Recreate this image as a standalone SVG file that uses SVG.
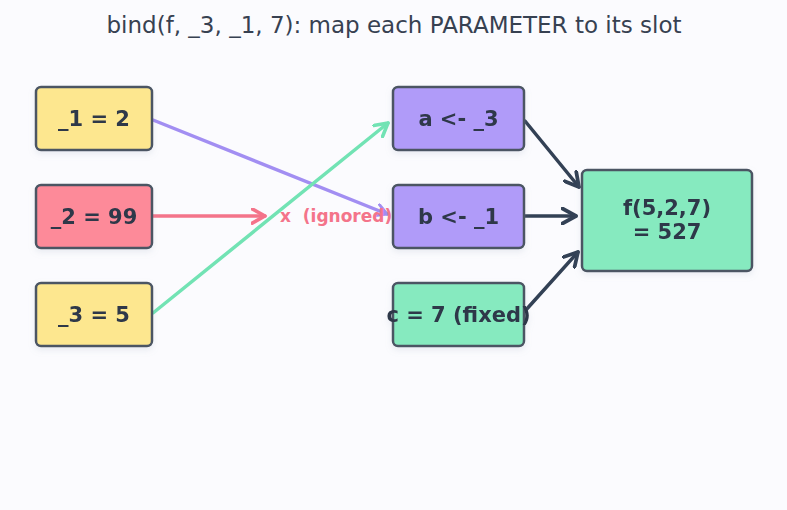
<svg xmlns="http://www.w3.org/2000/svg" width="787" height="510" viewBox="0 0 787 510">
<defs>
<style>
.box{stroke:#4b5563;stroke-width:2.5}
.lbl{font-family:"DejaVu Sans",sans-serif;font-weight:bold;font-size:21px;fill:#2d3748;text-anchor:middle;dominant-baseline:central}
.edge{fill:none;stroke-width:3.5;stroke-linecap:round}
</style>
<filter id="sh" x="-20%" y="-20%" width="140%" height="150%"><feDropShadow dx="0" dy="3" stdDeviation="3" flood-color="#94a3b8" flood-opacity="0.18"/></filter>
<marker id="mp" viewBox="0 0 12 12" refX="10" refY="6" markerWidth="14" markerHeight="14" markerUnits="userSpaceOnUse" orient="auto"><path d="M1,1 L10,6 L1,11" fill="none" stroke="#a28ef2" stroke-width="2.5" stroke-linecap="round" stroke-linejoin="round"/></marker>
<marker id="mg" viewBox="0 0 12 12" refX="10" refY="6" markerWidth="17" markerHeight="17" markerUnits="userSpaceOnUse" orient="auto"><path d="M1,1 L10,6 L1,11" fill="none" stroke="#72e3b4" stroke-width="2.5" stroke-linecap="round" stroke-linejoin="round"/></marker>
<marker id="mr" viewBox="0 0 12 12" refX="10" refY="6" markerWidth="17" markerHeight="17" markerUnits="userSpaceOnUse" orient="auto"><path d="M1,1 L10,6 L1,11" fill="none" stroke="#f4748a" stroke-width="2.5" stroke-linecap="round" stroke-linejoin="round"/></marker>
<marker id="md" viewBox="0 0 12 12" refX="10" refY="6" markerWidth="18" markerHeight="18" markerUnits="userSpaceOnUse" orient="auto"><path d="M1,1 L10,6 L1,11" fill="none" stroke="#334155" stroke-width="2.5" stroke-linecap="round" stroke-linejoin="round"/></marker>
</defs>
<rect width="787" height="510" fill="#fbfbfe"/>
<text x="394" y="25" font-family="DejaVu Sans, sans-serif" font-size="23" fill="#374151" text-anchor="middle" dominant-baseline="central">bind(f, _3, _1, 7): map each PARAMETER to its slot</text>
<g id="connectors">
<line class="edge" x1="153" y1="120" x2="387" y2="214" stroke="#a28ef2" marker-end="url(#mp)"/>
<line class="edge" x1="153" y1="313" x2="388" y2="123" stroke="#72e3b4" marker-end="url(#mg)"/>
<line class="edge" x1="153" y1="216" x2="265" y2="216" stroke="#f4748a" marker-end="url(#mr)"/>
<text x="280" y="216" xml:space="preserve" style="white-space:pre" font-family="DejaVu Sans, sans-serif" font-weight="bold" font-size="17" fill="#f4748a" dominant-baseline="central">x  (ignored)</text>
<line class="edge" x1="525" y1="121" x2="579" y2="187" stroke="#334155" marker-end="url(#md)"/>
<line class="edge" x1="525" y1="216" x2="576" y2="216" stroke="#334155" marker-end="url(#md)"/>
<line class="edge" x1="525" y1="311" x2="578" y2="252" stroke="#334155" marker-end="url(#md)"/>
</g>
<g id="n1" filter="url(#sh)"><rect class="box" x="36" y="87" width="116" height="63" rx="5" fill="#fde78f"/><text class="lbl" x="94" y="118.5">_1 = 2</text></g>
<g id="n2" filter="url(#sh)"><rect class="box" x="36" y="185" width="116" height="63" rx="5" fill="#fd8a99"/><text class="lbl" x="94" y="216.5">_2 = 99</text></g>
<g id="n3" filter="url(#sh)"><rect class="box" x="36" y="283" width="116" height="63" rx="5" fill="#fde78f"/><text class="lbl" x="94" y="314.5">_3 = 5</text></g>
<g id="a" filter="url(#sh)"><rect class="box" x="393" y="87" width="131" height="63" rx="5" fill="#b09bf9"/><text class="lbl" x="458.5" y="118.5">a &lt;- _3</text></g>
<g id="b" filter="url(#sh)"><rect class="box" x="393" y="185" width="131" height="63" rx="5" fill="#b09bf9"/><text class="lbl" x="458.5" y="216.5">b &lt;- _1</text></g>
<g id="c" filter="url(#sh)"><rect class="box" x="393" y="283" width="131" height="63" rx="5" fill="#86eabf"/><text class="lbl" x="458.5" y="314.5">c = 7 (fixed)</text></g>
<g id="f" filter="url(#sh)"><rect class="box" x="582" y="170" width="170" height="101" rx="5" fill="#86eabf"/><text class="lbl" x="667" y="208">f(5,2,7)</text><text class="lbl" x="667" y="232">= 527</text></g>
</svg>
